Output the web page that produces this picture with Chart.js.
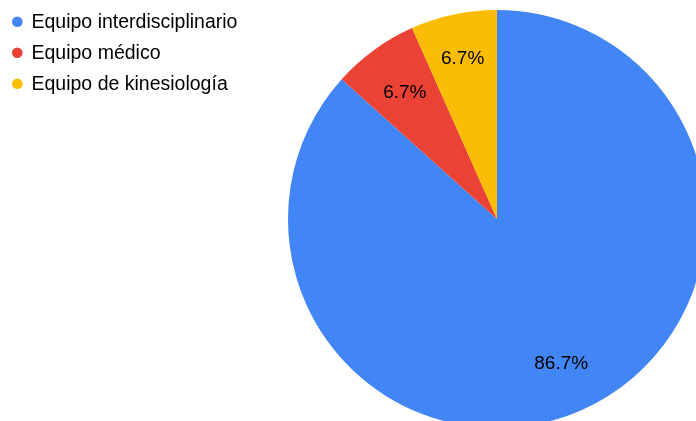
<!DOCTYPE html>
<html>
<head>
<meta charset="utf-8">
<script src="https://cdn.jsdelivr.net/npm/chart.js@4/dist/chart.umd.min.js"></script>
<style>
  html, body { margin: 0; padding: 0; background: #fff; overflow: hidden; }
  #wrap { width: 696px; height: 421px; overflow: hidden; position: relative; }
  canvas { display: block; }
</style>
</head>
<body>
<div id="wrap"><canvas id="chart" width="720" height="440"></canvas></div>
<script>
// ---- Data ----
const categories = ['Equipo interdisciplinario', 'Equipo médico', 'Equipo de kinesiología'];
const counts = [13, 1, 1];
const colors = ['#4285f4', '#ea4335', '#fbbc04'];
const labelRadius = [0.755, 0.75, 0.79];   // label distance, fraction of radius

const FONT = '"Liberation Sans", Arial, sans-serif';

// legend drawn top-left, like the Sheets chart
const legendPlugin = {
    id: 'leftLegend',
    afterDraw(chart) {
        const ctx = chart.ctx;
        ctx.save();
        ctx.font = '19.5px ' + FONT;
        ctx.textBaseline = 'alphabetic';
        ctx.textAlign = 'left';
        categories.forEach((name, i) => {
            const y = 21.7 + i * 31;
            ctx.fillStyle = colors[i];
            ctx.beginPath();
            ctx.arc(17.3, y, 5.3, 0, Math.PI * 2);
            ctx.fill();
            ctx.fillStyle = '#000000';
            ctx.fillText(name, 31.5, y + 6.6);
        });
        ctx.restore();
    }
};

// percentage labels inside the slices
const sliceLabels = {
    id: 'sliceLabels',
    afterDatasetsDraw(chart) {
        const ctx = chart.ctx;
        const meta = chart.getDatasetMeta(0);
        const total = counts.reduce((a, b) => a + b, 0);
        ctx.save();
        ctx.font = '19px ' + FONT;
        ctx.fillStyle = '#000000';
        ctx.textAlign = 'center';
        ctx.textBaseline = 'middle';
        meta.data.forEach((arc, i) => {
            const p = arc.getProps(['x', 'y', 'startAngle', 'endAngle', 'outerRadius'], true);
            const mid = (p.startAngle + p.endAngle) / 2;
            const d = p.outerRadius * labelRadius[i];
            const pct = (counts[i] / total * 100).toFixed(1) + '%';
            ctx.fillText(pct, p.x + Math.cos(mid) * d, p.y + Math.sin(mid) * d + 1);
        });
        ctx.restore();
    }
};

new Chart(document.getElementById('chart'), {
    type: 'pie',
    data: {
        labels: categories,
        datasets: [{
            data: counts,
            backgroundColor: colors,
            borderWidth: 0
        }]
    },
    options: {
        responsive: false,
        animation: false,
        layout: { padding: { left: 288, top: 10, right: 14, bottom: 12 } },
        plugins: {
            legend: { display: false },
            tooltip: { enabled: false }
        }
    },
    plugins: [legendPlugin, sliceLabels]
});
</script>
</body>
</html>
